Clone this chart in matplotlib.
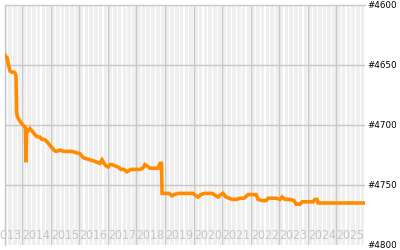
import matplotlib
matplotlib.use("Agg")
import matplotlib.pyplot as plt
from matplotlib import font_manager

# decimal year / rank
years = [2013.41, 2013.44, 2013.48, 2013.51, 2013.55, 2013.58, 2013.65, 2013.72, 2013.76, 2013.79,
         2013.81, 2013.83, 2013.86, 2013.93, 2014.00, 2014.07, 2014.12, 2014.14, 2014.16, 2014.21,
         2014.28, 2014.35, 2014.42, 2014.49, 2014.56, 2014.63, 2014.70, 2014.77, 2014.84, 2014.91,
         2014.98, 2015.05, 2015.12, 2015.19, 2015.33, 2015.47, 2015.61, 2015.75, 2015.89, 2016.03,
         2016.13, 2016.24, 2016.38, 2016.52, 2016.62, 2016.73, 2016.80, 2016.87, 2016.94, 2017.01,
         2017.08, 2017.15, 2017.25, 2017.36, 2017.46, 2017.57, 2017.67, 2017.74, 2017.81, 2017.92,
         2018.02, 2018.13, 2018.23, 2018.30, 2018.37, 2018.48, 2018.62, 2018.76, 2018.83, 2018.88,
         2018.90, 2019.00, 2019.14, 2019.25, 2019.32, 2019.46, 2019.60, 2019.70, 2019.84, 2019.98,
         2020.09, 2020.16, 2020.26, 2020.37, 2020.51, 2020.65, 2020.79, 2020.86, 2020.96, 2021.03,
         2021.14, 2021.24, 2021.35, 2021.49, 2021.63, 2021.77, 2021.91, 2022.05, 2022.19, 2022.26,
         2022.40, 2022.54, 2022.61, 2022.75, 2022.89, 2023.03, 2023.10, 2023.20, 2023.38, 2023.52,
         2023.59, 2023.73, 2023.80, 2023.94, 2024.08, 2024.18, 2024.25, 2024.32, 2024.36, 2024.78,
         2025.30, 2025.37, 2026.00]
ranks = [4642, 4643, 4644, 4648, 4652, 4655, 4656, 4656, 4657, 4659,
         4689, 4692, 4694, 4697, 4699, 4701, 4702, 4731, 4704, 4705,
         4703, 4705, 4707, 4709, 4710, 4710, 4712, 4712, 4713, 4715,
         4717, 4719, 4721, 4722, 4721, 4722, 4722, 4722, 4723, 4724,
         4727, 4728, 4729, 4730, 4731, 4732, 4729, 4732, 4734, 4735,
         4733, 4733, 4734, 4735, 4737, 4737, 4739, 4738, 4737, 4737,
         4737, 4737, 4736, 4733, 4734, 4736, 4736, 4736, 4732, 4732,
         4757, 4757, 4757, 4759, 4758, 4757, 4757, 4757, 4757, 4757,
         4759, 4760, 4758, 4757, 4757, 4757, 4759, 4760, 4758, 4757,
         4760, 4761, 4762, 4762, 4761, 4761, 4758, 4758, 4758, 4762,
         4763, 4763, 4761, 4761, 4761, 4762, 4760, 4762, 4762, 4763,
         4766, 4766, 4764, 4764, 4764, 4764, 4762, 4762, 4765, 4765,
         4765, 4765, 4765]
year_labels = list(range(2013, 2026))
rank_ticks = [4600, 4650, 4700, 4750, 4800]

# a condensed face if the system has one, else shrink the normal one
cond = [f for f in font_manager.fontManager.ttflist
        if f.name == 'DejaVu Sans' and f.stretch == 'condensed' and f.weight in (400, 'normal')]
if cond:
    lab_font = dict(family='DejaVu Sans', fontstretch='condensed', fontsize=8.8)
else:
    lab_font = dict(family='DejaVu Sans', fontsize=8.1)

fig = plt.figure(figsize=(4, 2.5), dpi=100)
ax = fig.add_axes([5 / 400, 5 / 250, 360 / 400, 240 / 250])
ax.set_xlim(2013.405, 2026.0)
ax.set_ylim(4800, 4600)

# month stripes
for y in range(2013, 2026):
    for m in range(0, 12, 2):
        s = y + (m + 0.25) / 12
        ax.axvspan(s, s + 1.5 / 12, color='#efefef', lw=0, zorder=0)

grid = '#c8c8c8'
for y in range(2014, 2026):
    ax.axvline(y, color=grid, lw=1, zorder=1)
for r in rank_ticks[1:-1]:
    ax.axhline(r, color=grid, lw=1, zorder=1)
for s in ax.spines.values():
    s.set_color(grid)
    s.set_linewidth(1)
ax.spines['right'].set_visible(False)
ax.spines['bottom'].set_visible(False)

ax.set_xticks([])
ax.set_yticks([])

for y in year_labels:
    ax.text(y + 0.5, 4792, str(y), ha='center', va='center', color='#c4c4c4',
            zorder=2, clip_on=False, **lab_font)

for r in rank_ticks:
    fig.text(367 / 400, 1 - (5 + (r - 4600) * 1.2) / 250, '#%d' % r,
             ha='left', va='center', fontsize=6.3, color='black')

ax.plot(years, ranks, color='#ff8c00', lw=2.6, zorder=3, solid_joinstyle='miter')

fig.savefig('out.png', dpi=100)
